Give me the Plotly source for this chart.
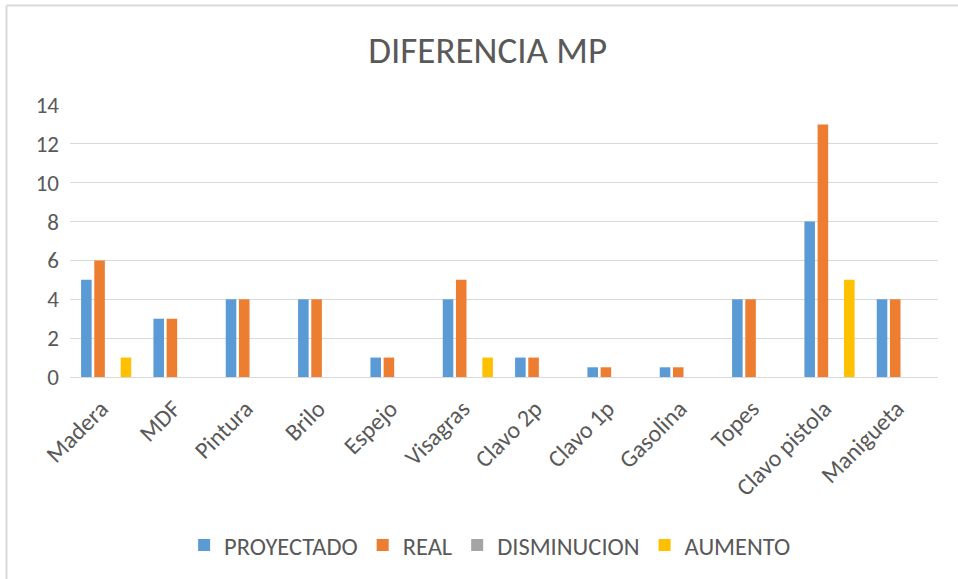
import plotly.graph_objects as go

categorias = ["Madera", "MDF", "Pintura", "Brilo", "Espejo", "Visagras",
              "Clavo 2p", "Clavo 1p", "Gasolina", "Topes", "Clavo pistola", "Manigueta"]
proyectado = [5, 3, 4, 4, 1, 4, 1, 0.5, 0.5, 4, 8, 4]
real = [6, 3, 4, 4, 1, 5, 1, 0.5, 0.5, 4, 13, 4]
disminucion = [0, 0, 0, 0, 0, 0, 0, 0, 0, 0, 0, 0]
aumento = [1, 0, 0, 0, 0, 1, 0, 0, 0, 0, 5, 0]

W, H = 958, 579
ml, mr, mt, mb = 70, 20, 105, 202
font_fam = "Carlito, Liberation Sans Narrow, Arial, sans-serif"
gris = "#595959"

fig = go.Figure()
for nombre, vals, color in [("PROYECTADO", proyectado, "#5B9BD5"),
                            ("REAL", real, "#ED7D31"),
                            ("DISMINUCION", disminucion, "#A5A5A5"),
                            ("AUMENTO", aumento, "#FFC000")]:
    fig.add_trace(go.Bar(name=nombre, x=categorias, y=vals, marker_color=color,
                         marker_line_width=0))

# marco gris del grafico (solo arriba e izquierda se ven)
pw, ph = W - ml - mr, H - mt - mb
x_borde = (6.5 - ml) / pw
y_borde = (H - mb - 5.5) / ph
fig.add_shape(type="line", xref="paper", yref="paper", x0=x_borde, x1=(W - ml) / pw + 0.05,
              y0=y_borde, y1=y_borde, line=dict(color="#D9D9D9", width=2))
fig.add_shape(type="line", xref="paper", yref="paper", x0=x_borde, x1=x_borde,
              y0=-mb / ph - 0.05, y1=y_borde, line=dict(color="#D9D9D9", width=2))

fig.update_layout(
    width=W, height=H,
    margin=dict(l=ml, r=mr, t=mt, b=mb, autoexpand=False),
    paper_bgcolor="white", plot_bgcolor="white",
    barmode="group", bargap=0.27, bargroupgap=0.2,
    font=dict(family=font_fam, color=gris, size=22),
    title=dict(text="DIFERENCIA MP", x=0.509, xanchor="center", y=0.913, yanchor="middle",
               font=dict(size=37, color=gris, family=font_fam)),
    legend=dict(orientation="h", x=0.484, xanchor="center", y=-0.618, yanchor="middle",
                font=dict(size=24.5, color=gris), itemwidth=30, traceorder="normal"),
    showlegend=True,
)
fig.update_xaxes(tickangle=-45, showgrid=False, showline=False, ticks="", automargin=False,
                 ticklabelstandoff=12, ticklabelshift=-5,
                 tickfont=dict(size=24, color=gris))
fig.update_yaxes(range=[0, 14], dtick=2, showgrid=True, gridcolor="#D9D9D9", gridwidth=1,
                 zeroline=True, zerolinecolor="#D9D9D9", zerolinewidth=1, automargin=False,
                 showline=False, ticks="", ticklabelstandoff=10,
                 tickfont=dict(size=23, color=gris))

fig.write_html("out.html", config={"displayModeBar": False},
               post_script="document.body.style.margin='0';document.body.style.overflow='hidden';")
